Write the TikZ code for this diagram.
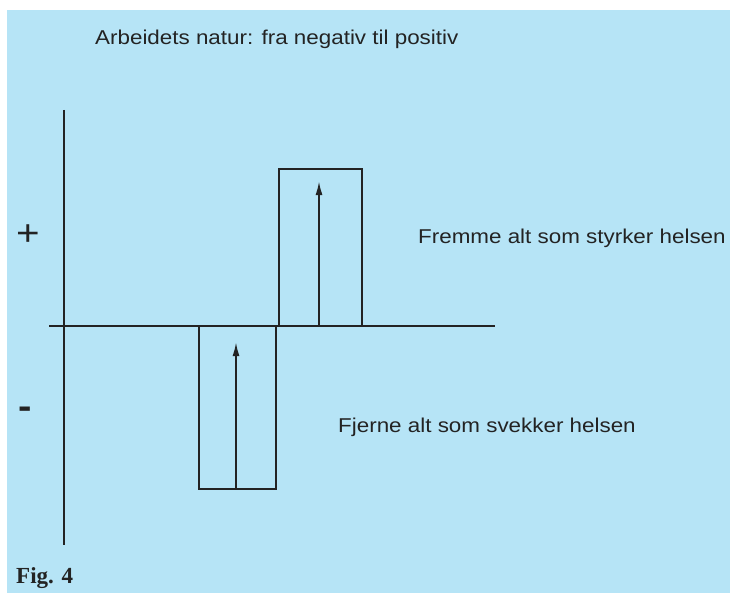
\documentclass[tikz,border=0pt]{standalone}
\usepackage{fontspec}
\newfontfamily\labelfont[FakeStretch=1.12]{Liberation Sans}
\newfontfamily\figfont{Liberation Serif}
\usetikzlibrary{arrows.meta,positioning}
\definecolor{paperblue}{RGB}{182,228,246}
\definecolor{inkgray}{RGB}{35,35,35}
\tikzset{
  axis/.style={
    draw=inkgray,
    line width=1.8pt
  },
  bar/.style={
    rectangle,
    draw=inkgray,
    line width=1.8pt,
    inner sep=0pt
  },
  arrow/.style={
    -{Latex[length=14pt,width=7pt]},
    line width=1.8pt,
    draw=inkgray
  },
  label/.style={
    inner sep=0pt,
    text=inkgray,
    font=\labelfont\fontsize{20}{24}\selectfont
  },
  sign/.style={
    inner sep=0pt,
    text=inkgray,
    font=\labelfont\fontsize{36}{40}\selectfont
  }
}

\begin{document}
\begin{tikzpicture}[x=1pt,y=-1pt]
  \useasboundingbox (0,0) rectangle (730,593);
  \fill[white] (0,0) rectangle (730,593);
  \fill[paperblue] (7,10) rectangle (730,593);

  % axes
  \coordinate (ytop) at (64,110);
  \coordinate (ybot) at (64,545);
  \coordinate (xleft) at (49,326);
  \coordinate (xright) at (495,326);
  \draw[axis] (ytop) -- (ybot);
  \draw[axis] (xleft) -- (xright);

  % bars
  \node[bar, minimum width=83pt, minimum height=157pt] (upbar) at (320.5,247.5) {};
  \node[bar, minimum width=77pt, minimum height=163pt] (downbar) at (237.5,407.5) {};
  \draw[arrow] (upbar.south -| 319,0) -- ([yshift=-13pt]upbar.north -| 319,0);
  \draw[arrow] (downbar.south -| 236,0) -- ([yshift=-17pt]downbar.north -| 236,0);

  % texts
  \node[label, anchor=base west] (title) at (95,45) {Arbeidets natur: fra negativ til positiv};
  \node[label, anchor=base west] (fremme) at (418,244) {Fremme alt som styrker helsen};
  \node[label, anchor=base west] (fjerne) at (338,432) {Fjerne alt som svekker helsen};
  \node[sign] (plus) at (28,235) {+};
  \node[sign, font=\labelfont\bfseries\fontsize{36}{40}\selectfont] (minus) at (25,413) {-};
  \node[inner sep=0pt, anchor=base west, text=inkgray, font=\figfont\bfseries\fontsize{23}{27}\selectfont] (fig) at (16,583) {Fig. 4};
\end{tikzpicture}
\end{document}
